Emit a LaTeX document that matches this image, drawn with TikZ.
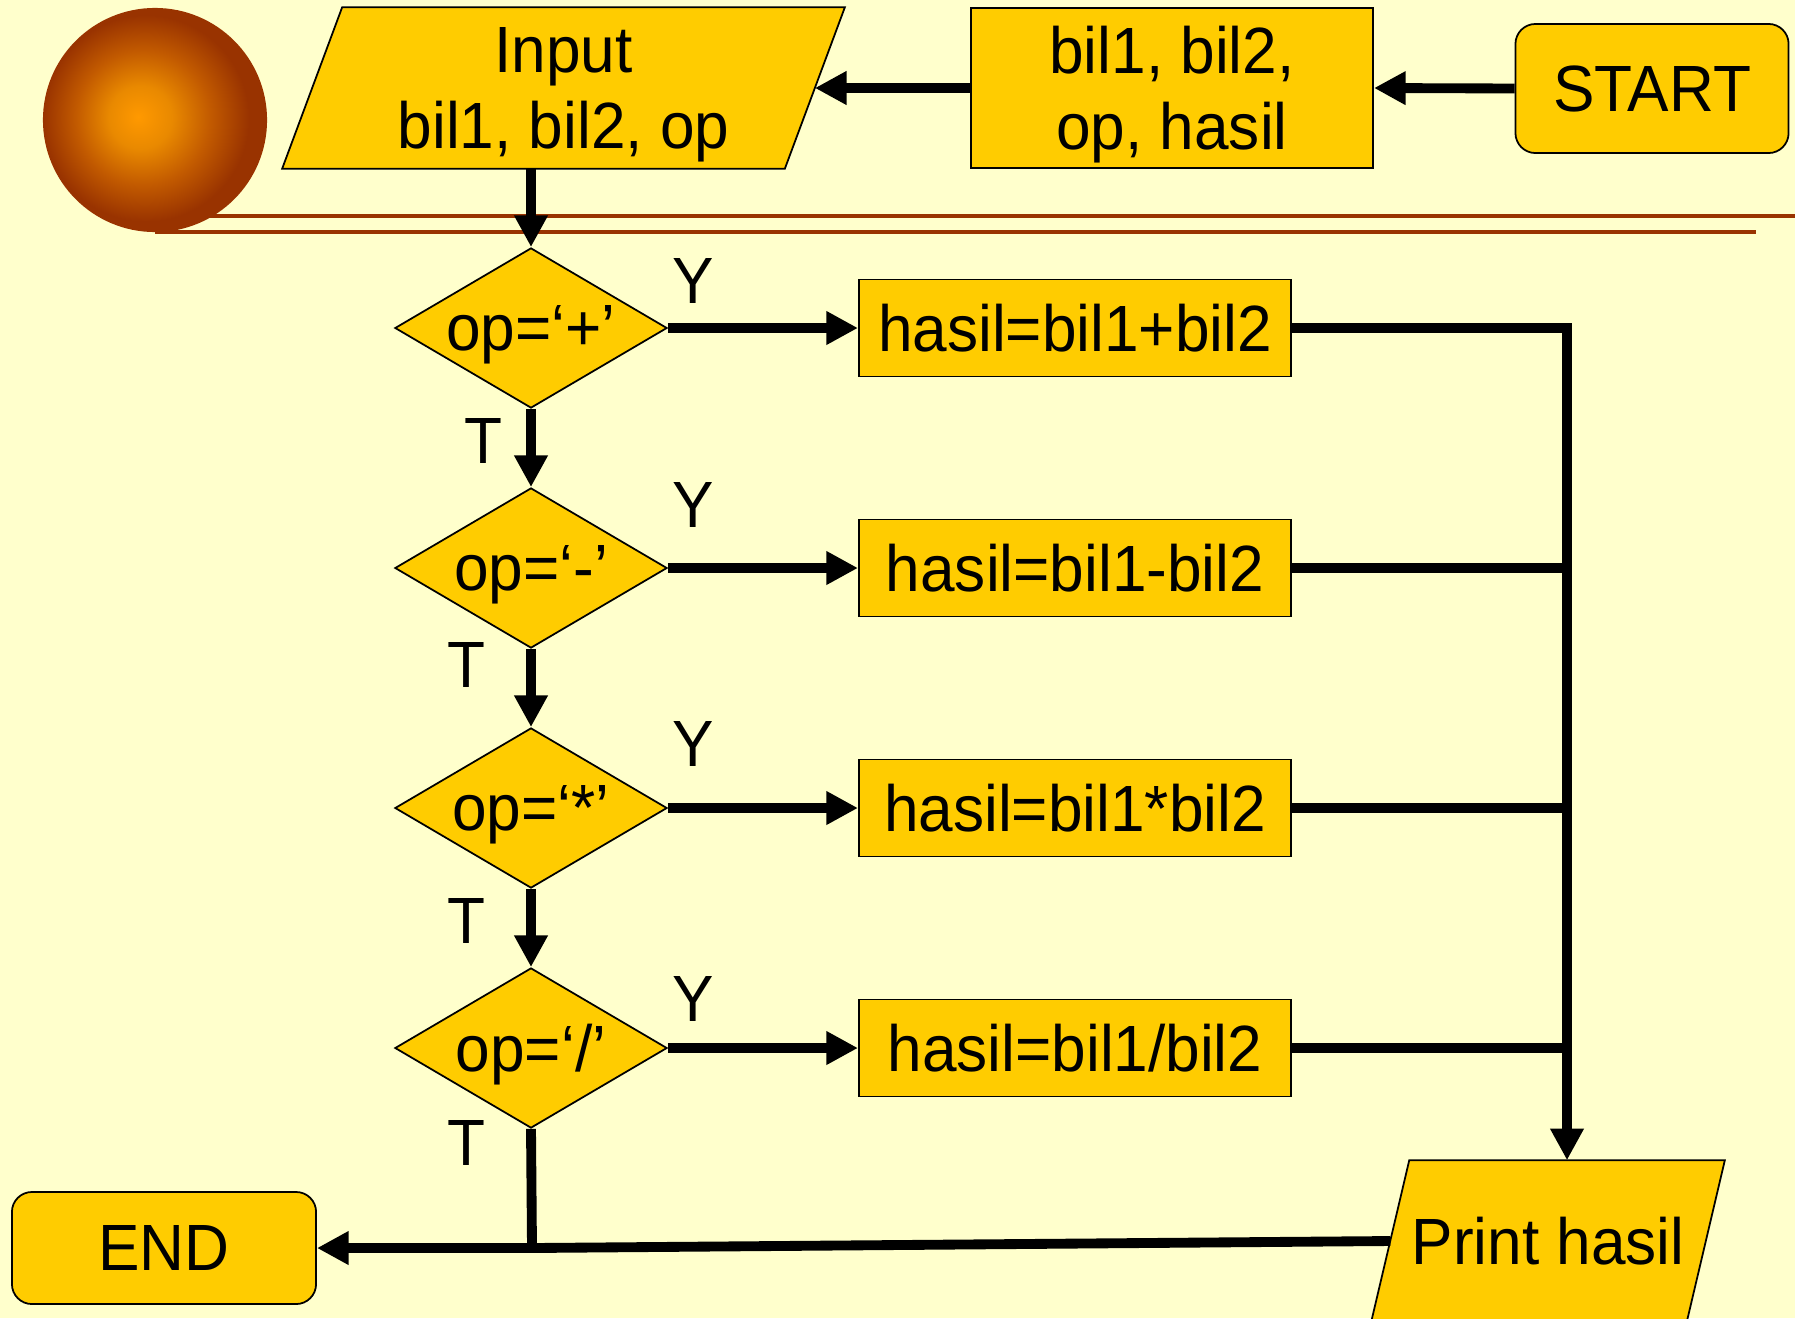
\documentclass[tikz,border=0pt]{standalone}
\usepackage{fontspec}
\setmainfont{Liberation Sans}[FakeStretch=0.95]
\usetikzlibrary{shapes.geometric,arrows.meta,calc}
\definecolor{bgc}{HTML}{FFFFCC}
\definecolor{boxc}{HTML}{FFCC00}
\definecolor{brn}{HTML}{993300}
\definecolor{sphin}{HTML}{FF9900}
\definecolor{sphmida}{HTML}{E98900}
\definecolor{sphmidb}{HTML}{C25A00}
\pgfdeclareradialshading{sphereshade}{\pgfpoint{-3.8bp}{0.7bp}}{color(0bp)=(sphin); color(7bp)=(sphmida); color(15bp)=(sphmidb); color(23bp)=(brn); color(50bp)=(brn)}
\pgfdeclarelayer{bg}
\pgfdeclarelayer{mid}
\pgfsetlayers{bg,mid,main}
\begin{document}
\begin{tikzpicture}[x=0.01cm,y=-0.01cm,
  font=\fontsize{18.6}{21.6}\selectfont,
  shp/.style={draw=black, line width=0.5pt, fill=boxc},
  procbox/.style={shp, rectangle, minimum width=4.32cm, minimum height=0.97cm, inner sep=0pt},
  decision/.style={shp, diamond, aspect=1.7, minimum width=2.72cm, minimum height=1.6cm, inner sep=0pt, text depth=0pt},
  terminal/.style={shp, rectangle, rounded corners=0.2cm, inner sep=0pt},
  iotext/.style={rectangle, inner sep=0pt, align=center, text depth=0pt},
  iofill/.style={draw=black, line width=0.5pt, fill=boxc, line join=miter},
  flow/.style={line width=2.8pt, line join=miter, -{Triangle[length=9pt,width=9pt]}},
  link/.style={line width=2.8pt},
  rule/.style={brn, line width=0.9pt},
  lbl/.style={inner sep=0pt}
]
\begin{pgfonlayer}{bg}
  \fill[bgc] (0,0) rectangle (1795,1318);
\end{pgfonlayer}
\useasboundingbox (0,0) rectangle (1795,1318);

% decoration: lines and sphere
\draw[rule] (155,216) -- (1795,216);
\shade[shading=sphereshade] (155,120) circle[radius=1.12cm];
\draw[rule] (155,232) -- (1756,232);

% nodes
\node[iotext, minimum width=5.01cm, minimum height=1.6cm] (input) at (563.5,88) {Input\\bil1, bil2, op};
\node[shp, rectangle, minimum width=4.02cm, minimum height=1.6cm, align=center, inner sep=0pt, text depth=0pt] (vars) at (1172,88) {bil1, bil2,\\op, hasil};
\node[terminal, minimum width=2.73cm, minimum height=1.29cm] (start) at (1652,88.5) {START};

\node[decision] (d1) at (531,328) {op=‘+’};
\node[decision] (d2) at (531,568) {op=‘-’};
\node[decision] (d3) at (531,808) {op=‘*’};
\node[decision] (d4) at (531,1048) {op=‘/’};

\node[procbox] (b1) at (1075,328) {hasil=bil1+bil2};
\node[procbox] (b2) at (1075,568) {hasil=bil1-bil2};
\node[procbox] (b3) at (1075,808) {hasil=bil1*bil2};
\node[procbox] (b4) at (1075,1048) {hasil=bil1/bil2};

\node[iotext, minimum width=3.14cm, minimum height=1.6cm] (print) at (1548,1241) {Print hasil};
\node[terminal, minimum width=3.04cm, minimum height=1.12cm] (end) at (164,1248) {END};

% parallelogram outlines
\begin{pgfonlayer}{mid}
  \draw[iofill] ([xshift=0.3cm]input.north west) -- ([xshift=0.3cm]input.north east)
     -- ([xshift=-0.3cm]input.south east) -- ([xshift=-0.3cm]input.south west) -- cycle;
  \draw[iofill] ([xshift=0.19cm]print.north west) -- ([xshift=0.19cm]print.north east)
     -- ([xshift=-0.19cm]print.south east) -- ([xshift=-0.19cm]print.south west) -- cycle;
\end{pgfonlayer}

% labels
\node[lbl] (y1) at (693,281) {Y};
\node[lbl] (y2) at (693,505) {Y};
\node[lbl] (y3) at (693,744) {Y};
\node[lbl] (y4) at (693,999) {Y};
\node[lbl] (t1) at (483,441) {T};
\node[lbl] (t2) at (466,665) {T};
\node[lbl] (t3) at (466,921) {T};
\node[lbl] (t4) at (466,1143) {T};

% connectors
\draw[flow] (start.west) -- (vars.east);
\draw[flow] (vars.west) -- (input.east);
\draw[flow] (input.south -| d1.north) -- (d1.north);
\draw[flow] (d1.east) -- (b1.west);
\draw[flow] (d2.east) -- (b2.west);
\draw[flow] (d3.east) -- (b3.west);
\draw[flow] (d4.east) -- (b4.west);
\draw[flow] (d1.south) -- (d2.north);
\draw[flow] (d2.south) -- (d3.north);
\draw[flow] (d3.south) -- (d4.north);

\coordinate (bus) at (1567,328);
\draw[flow] (b1.east) -- (bus) -- (bus |- print.north);
\draw[link] (b2.east) -- (b2.east -| bus);
\draw[link] (b3.east) -- (b3.east -| bus);
\draw[link] (b4.east) -- (b4.east -| bus);

\coordinate (jn) at (532,1248);
\draw[link] (d4.south) -- (jn);
\draw[flow] (print.west) -- (jn) -- (end.east);
\end{tikzpicture}
\end{document}
